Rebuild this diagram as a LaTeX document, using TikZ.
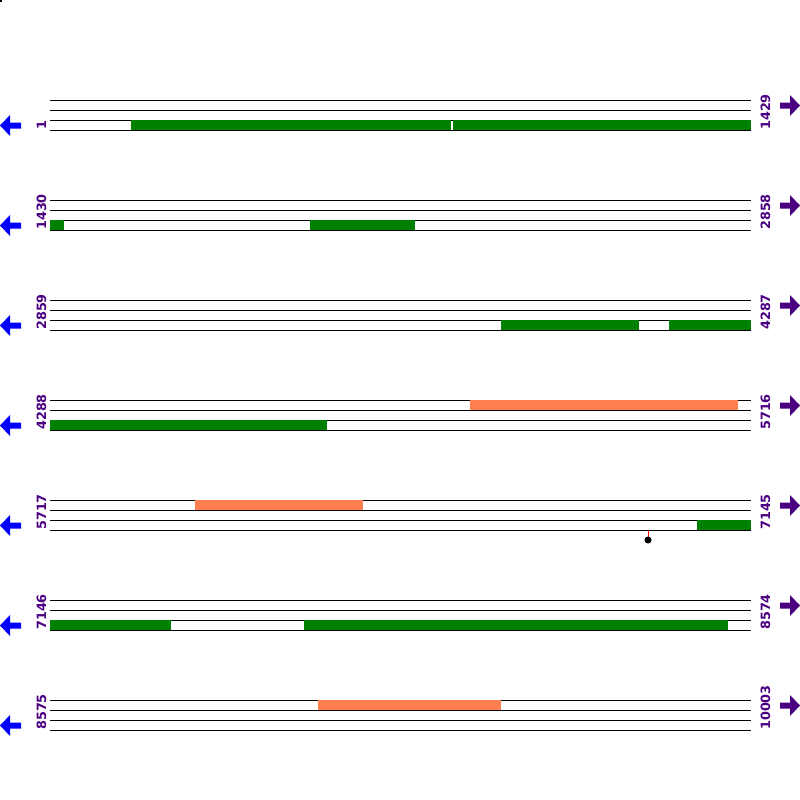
\documentclass[tikz,border=0pt]{standalone}
\usepackage{fontspec}
\setmainfont{DejaVu Sans}
\definecolor{mygreen}{HTML}{008000}
\definecolor{mycoral}{HTML}{FF7F50}
\definecolor{myindigo}{HTML}{4B0082}
\definecolor{myblue}{HTML}{0000FF}
\begin{document}
\begin{tikzpicture}[x=1pt,y=-1pt,
  trackline/.style={black,line width=1pt},
  gbar/.style={fill=mygreen},
  obar/.style={fill=mycoral},
  numlabel/.style={rotate=90,anchor=base west,inner sep=0pt,text=myindigo,font=\fontsize{12.8}{14}\selectfont\bfseries},
  larrow/.style={fill=myblue},
  rarrow/.style={fill=myindigo}]
\useasboundingbox (0,0) rectangle (800,800);
\fill[black] (0,0) rectangle (2,2);
% rows
\foreach \y/\a/\b [count=\i] in {100/1/1429,200/1430/2858,300/2859/4287,400/4288/5716,500/5717/7145,600/7146/8574,700/8575/10003}{
  \foreach \d in {0,10,20,30}
    \draw[trackline] (50,\y+\d) -- (751,\y+\d);
  \node[numlabel] (l\i) at (46,\y+30) {\a};
  \node[numlabel] (r\i) at (770,\y+30) {\b};
  \fill[larrow] (0,\y+25.5) -- (10,\y+15) -- (10,\y+22.5) -- (21,\y+22.5) -- (21,\y+28.5) -- (10,\y+28.5) -- (10,\y+36) -- cycle;
  \fill[rarrow] (800,\y+5.5) -- (790,\y-5) -- (790,\y+2.5) -- (780,\y+2.5) -- (780,\y+8.5) -- (790,\y+8.5) -- (790,\y+16) -- cycle;
}
% row 1
\fill[gbar] (131,120) rectangle (451,130);
\fill[gbar] (453,120) rectangle (751,130);
% row 2
\fill[gbar] (50,220) rectangle (64,230);
\fill[gbar] (310,220) rectangle (415,230);
% row 3
\fill[gbar] (501,320) rectangle (639,330);
\fill[gbar] (669,320) rectangle (751,330);
% row 4
\fill[obar] (470,400) rectangle (738,410);
\fill[gbar] (50,420) rectangle (327,430);
% row 5
\fill[obar] (195,500) rectangle (363,510);
\fill[gbar] (697,520) rectangle (751,530);
\draw[red,line width=0.8pt] (648,530) -- (648,538);
\fill[black] (648,540) circle (3.5);
% row 6
\fill[gbar] (50,620) rectangle (171,630);
\fill[gbar] (304,620) rectangle (728,630);
% row 7
\fill[obar] (318,700) rectangle (501,710);
\end{tikzpicture}
\end{document}
